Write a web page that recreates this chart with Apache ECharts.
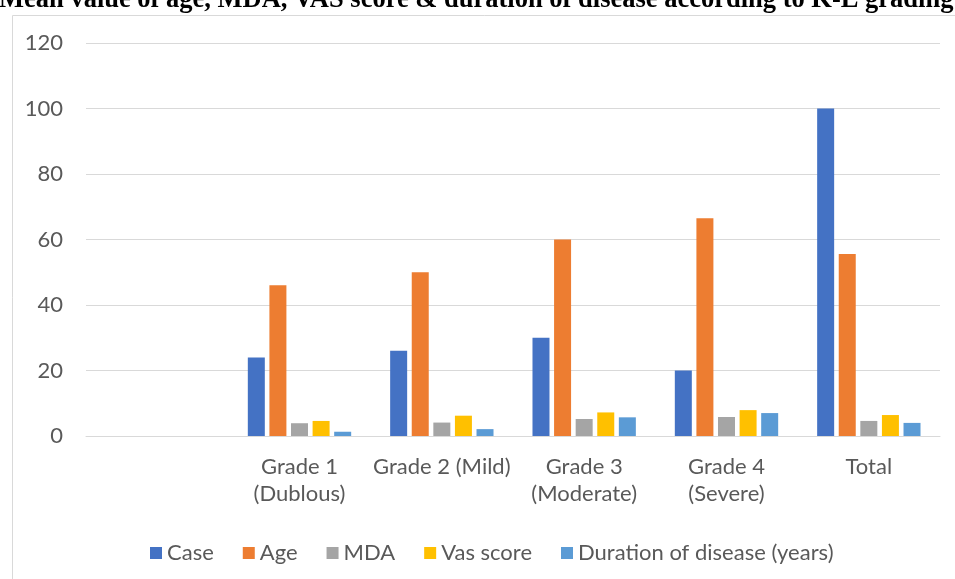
<!DOCTYPE html>
<html>
<head>
<meta charset="utf-8">
<script src="https://cdn.jsdelivr.net/npm/echarts@6/dist/echarts.min.js"></script>
<style>
html,body{margin:0;padding:0;background:#fff;}
#chart{width:955px;height:579px;}
</style>
</head>
<body>
<div id="chart"></div>
<script>
const categories = ['', 'Grade 1\n(Dublous)', 'Grade 2 (Mild)', 'Grade 3\n(Moderate)', 'Grade 4\n(Severe)', 'Total'];
const caseValues = [null, 24, 26, 30, 20, 100];
const ageValues = [null, 46, 50, 60, 66.5, 55.6];
const mdaValues = [null, 3.9, 4.1, 5.2, 5.8, 4.6];
const vasValues = [null, 4.6, 6.2, 7.2, 7.9, 6.4];
const durationValues = [null, 1.3, 2.1, 5.7, 7.0, 4.0];
const seriesNames = ['Case', 'Age', 'MDA', 'Vas score', 'Duration of disease (years)'];
const colors = ['#4472C4', '#ED7D31', '#A5A5A5', '#FFC000', '#5B9BD5'];
const yTicks = [0, 20, 40, 60, 80, 100, 120];
const titleText = 'Mean value of age, MDA, VAS score & duration of disease according to K-L grading';

const font = 'Lato, "Open Sans", sans-serif';
const allValues = [caseValues, ageValues, mdaValues, vasValues, durationValues];

const chart = echarts.init(document.getElementById('chart'), null, {renderer: 'canvas'});
chart.setOption({
  animation: false,
  color: colors,
  graphic: [{
    type: 'rect',
    left: 10, top: 13,
    shape: {width: 1200, height: 800},
    style: {fill: 'none', stroke: '#d9d9d9', lineWidth: 1},
    silent: true
  }],
  title: {
    text: titleText,
    left: -1, top: -13,
    padding: 0,
    textStyle: {fontFamily: '"Liberation Serif", serif', fontWeight: 'bold', fontSize: 26.5, color: '#000'}
  },
  grid: {left: 86, right: 15, top: 43, bottom: 143, containLabel: false},
  xAxis: {
    type: 'category',
    data: categories,
    axisLine: {show: true, lineStyle: {color: '#d9d9d9', width: 1}},
    axisTick: {show: false},
    axisLabel: {color: '#595959', fontSize: 22, fontFamily: font, lineHeight: 27, margin: 17, interval: 0}
  },
  yAxis: {
    type: 'value',
    min: yTicks[0], max: yTicks[yTicks.length - 1], interval: 20,
    axisLine: {show: false},
    axisTick: {show: false},
    splitLine: {lineStyle: {color: '#d9d9d9', width: 1}},
    axisLabel: {color: '#595959', fontSize: 22, fontFamily: font, margin: 23}
  },
  legend: {
    data: seriesNames,
    left: 145, top: 537,
    itemWidth: 12, itemHeight: 12, itemGap: 29,
    icon: 'rect',
    textStyle: {color: '#595959', fontSize: 22, fontFamily: font, padding: [0, 0, 0, 0]}
  },
  series: seriesNames.map((name, i) => ({
    name: name,
    type: 'bar',
    data: allValues[i],
    barWidth: 17,
    barGap: '27%',
    itemStyle: {color: colors[i]}
  }))
});
</script>
</body>
</html>
